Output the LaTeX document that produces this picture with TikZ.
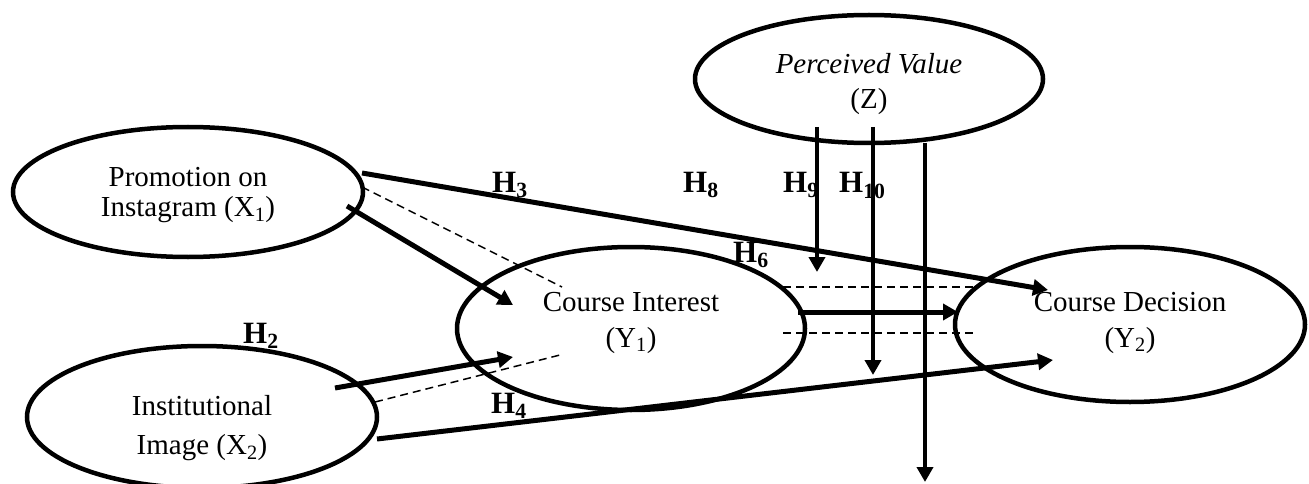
\documentclass[tikz,border=0pt]{standalone}
\usepackage{fontspec}
\setmainfont{Liberation Serif}
\usetikzlibrary{arrows.meta,shapes.geometric}
\begin{document}
\begin{tikzpicture}[x=1pt,y=-1pt,
  var/.style={ellipse,draw,line width=4.5pt,inner sep=0pt},
  txt/.style={align=center,inner sep=0pt,font=\fontsize{29}{36}\selectfont},
  arrowline/.style={line width=5pt,-{Triangle[length=15pt,width=16pt]}},
  modline/.style={line width=4.5pt,-{Triangle[length=15pt,width=16pt]}},
  medline/.style={line width=1.5pt,dash pattern=on 8pt off 5pt},
  hyp/.style={font=\fontsize{31}{36}\selectfont\bfseries,inner sep=0pt,anchor=base west}]
\useasboundingbox (0,0) rectangle (1309,484);
% variables
\node[var,minimum width=350pt,minimum height=130pt,
  label={[txt,font=\fontsize{29}{30}\selectfont,yshift=-3pt]center:{Promotion on\\Instagram (X\textsubscript{1})}}] (x1) at (188,192) {};
\node[var,minimum width=350pt,minimum height=142pt,
  label={[txt,font=\fontsize{29}{39}\selectfont,yshift=-11pt]center:{Institutional\\Image (X\textsubscript{2})}}] (x2) at (202,417) {};
\node[var,minimum width=348pt,minimum height=163pt,
  label={[txt,yshift=6pt]center:{Course Interest\\(Y\textsubscript{1})}}] (y1) at (631,328.5) {};
\node[var,minimum width=350pt,minimum height=155pt,
  label={[txt,yshift=2pt]center:{Course Decision\\(Y\textsubscript{2})}}] (y2) at (1130,324.5) {};
\node[var,minimum width=348pt,minimum height=128pt,
  label={[txt,font=\fontsize{29}{35}\selectfont,yshift=-5pt]center:{\textit{Perceived Value}\\(Z)}}] (z) at (869,79) {};
% end points
\coordinate (h1a) at (347,206); \coordinate (h1b) at (513,305);
\coordinate (h3a) at (362,173); \coordinate (h3b) at (1048,290);
\coordinate (m1a) at (362,187); \coordinate (m1b) at (562,287);
\coordinate (h2a) at (335,388); \coordinate (h2b) at (513,357);
\coordinate (m2a) at (375,402); \coordinate (m2b) at (560,355);
\coordinate (h4a) at (377,439); \coordinate (h4b) at (1053,360);
\coordinate (h6a) at (798,312); \coordinate (h6b) at (958,312);
\coordinate (m3a) at (783,287); \coordinate (m3b) at (975,287);
\coordinate (m4a) at (783,333); \coordinate (m4b) at (975,333);
\coordinate (z1a) at (817,127); \coordinate (z1b) at (817,272);
\coordinate (z2a) at (873,127); \coordinate (z2b) at (873,375);
\coordinate (z3a) at (925,143); \coordinate (z3b) at (925,482);
% connectors
\draw[arrowline] (h1a) -- (h1b);
\draw[arrowline] (h3a) -- (h3b);
\draw[arrowline] (h2a) -- (h2b);
\draw[arrowline] (h4a) -- (h4b);
\draw[arrowline] (h6a) -- (h6b);
\draw[medline] (m1a) -- (m1b);
\draw[medline] (m2a) -- (m2b);
\draw[medline] (m3a) -- (m3b);
\draw[medline] (m4a) -- (m4b);
\draw[modline] (z1a) -- (z1b);
\draw[modline] (z2a) -- (z2b);
\draw[modline] (z3a) -- (z3b);
% hypothesis labels
\node[hyp] (lh2) at (243,343) {H\textsubscript{2}};
\node[hyp] (lh3) at (492,192) {H\textsubscript{3}};
\node[hyp] (lh4) at (491,413) {H\textsubscript{4}};
\node[hyp] (lh6) at (733,262) {H\textsubscript{6}};
\node[hyp] (lh8) at (683,192) {H\textsubscript{8}};
\node[hyp] (lh9) at (783,192) {H\textsubscript{9}};
\node[hyp] (lh10) at (839,193) {H\textsubscript{10}};
\end{tikzpicture}
\end{document}
